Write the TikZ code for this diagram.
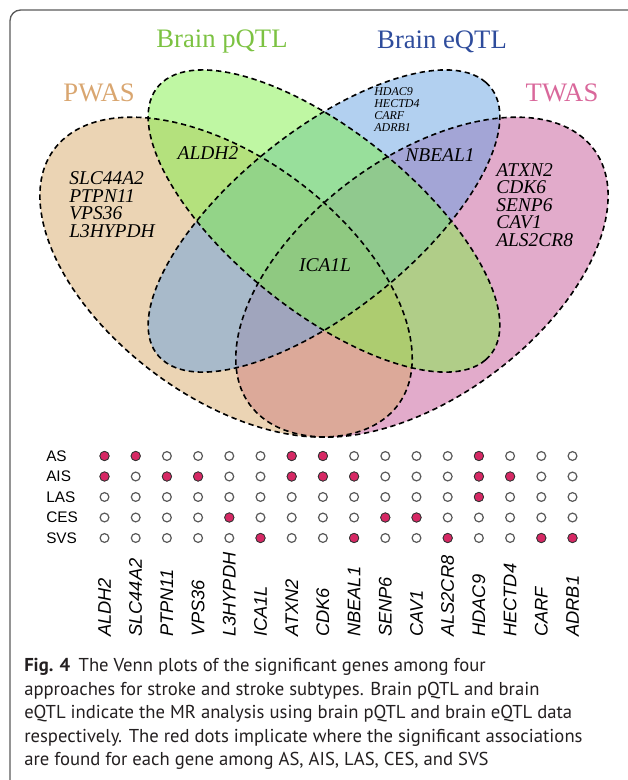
\documentclass[tikz,border=0pt]{standalone}
\usepackage{fontspec}
\setmainfont{Liberation Serif}
\newfontfamily\helv{Liberation Sans}
\newfontfamily\capfont{PT Sans}

\definecolor{pwascol}{RGB}{215,169,105}
\definecolor{pqtlcol}{RGB}{127,239,71}
\definecolor{eqtlcol}{RGB}{101,161,225}
\definecolor{twascol}{RGB}{197,87,151}
\definecolor{pwastxt}{RGB}{217,166,112}
\definecolor{pqtltxt}{RGB}{124,194,66}
\definecolor{eqtltxt}{RGB}{46,76,156}
\definecolor{twastxt}{RGB}{217,104,155}
\definecolor{dotred}{RGB}{214,40,100}
\definecolor{framegray}{RGB}{90,90,90}
\definecolor{captxt}{RGB}{35,31,32}

\tikzset{
	venn/.style={fill=#1, fill opacity=0.5},
	vennline/.style={draw=black, line width=1.2pt, dash pattern=on 4pt off 2.8pt},
	settitle/.style={font=\fontsize{20}{24}\selectfont, text=#1, inner sep=0pt},
	gene/.style={font=\fontsize{14.6}{17}\selectfont\itshape, inner sep=0pt},
	smallgene/.style={font=\fontsize{9}{10}\selectfont\itshape, inner sep=0pt},
	rowlab/.style={font=\helv\fontsize{11.5}{13}\selectfont, inner sep=0pt, anchor=west},
	genelab/.style={font=\helv\fontsize{13.7}{15}\selectfont\itshape, rotate=90, anchor=west, inner sep=0pt},
	emptydot/.style={circle, draw=black!65, line width=0.9pt, fill=white, minimum size=6.6pt, inner sep=0pt},
	fulldot/.style={circle, draw=black!80, line width=0.6pt, fill=dotred, minimum size=7pt, inner sep=0pt},
	capline/.style={font=\capfont\fontsize{14}{17}\selectfont, text=captxt, anchor=base west, inner sep=0pt}
}

\begin{document}
\begin{tikzpicture}[x=0.75pt, y=0.75pt]
	\useasboundingbox (0,0) rectangle (627,-780);
	\draw[framegray, line width=1pt, rounded corners=8pt] (10,-800) -- (10,-10) -- (650,-10);

	% Venn
	\begin{scope}[shift={(-2.5,-540.8)}, xscale=653, yscale=561]
		\fill[venn=twascol, rotate around={45:(0.65,0.47)}] (0.65,0.47) ellipse (0.35 and 0.2);
		\fill[venn=pwascol, rotate around={-45:(0.35,0.47)}] (0.35,0.47) ellipse (0.35 and 0.2);
		\fill[venn=eqtlcol, rotate around={45:(0.5,0.57)}] (0.5,0.57) ellipse (0.35 and 0.15);
		\fill[venn=pqtlcol, rotate around={-45:(0.5,0.57)}] (0.5,0.57) ellipse (0.35 and 0.15);

		\draw[vennline, rotate around={45:(0.65,0.47)}] (0.65,0.47) ellipse (0.35 and 0.2);
		\draw[vennline, rotate around={-45:(0.35,0.47)}] (0.35,0.47) ellipse (0.35 and 0.2);
		\draw[vennline, rotate around={45:(0.5,0.57)}] (0.5,0.57) ellipse (0.35 and 0.15);
		\draw[vennline, rotate around={-45:(0.5,0.57)}] (0.5,0.57) ellipse (0.35 and 0.15);
	\end{scope}

	\node[settitle=pqtltxt] (pqtl) at (222,-42) {Brain pQTL};
	\node[settitle=eqtltxt] (eqtl) at (442,-42) {Brain eQTL};
	\node[settitle=pwastxt] (pwas) at (99,-93) {PWAS};
	\node[settitle=twastxt] (twas) at (562,-93) {TWAS};

	\foreach \g [count=\k] in {SLC44A2,PTPN11,VPS36,L3HYPDH} {
		\node[gene, anchor=base west] (pw\k) at (69,{-185-17.5*(\k-1)}) {\g};
	}
	\foreach \g [count=\k] in {ATXN2,CDK6,SENP6,CAV1,ALS2CR8} {
		\node[gene, anchor=base west] (tw\k) at (496,{-176.5-17.5*(\k-1)}) {\g};
	}
	\foreach \g [count=\k] in {HDAC9,HECTD4,CARF,ADRB1} {
		\node[smallgene, anchor=base west] (eq\k) at (374,{-96-12*(\k-1)}) {\g};
	}
	\node[gene] (aldh) at (208,-153) {ALDH2};
	\node[gene] (nbeal) at (440,-155) {NBEAL1};
	\node[gene] (ica) at (325,-265) {ICA1L};

	% dot matrix
	\foreach \r [count=\j] in {AS,AIS,LAS,CES,SVS} {
		\node[rowlab] (r\j) at (46,{-456-20.5*(\j-1)}) {\r};
		\foreach \i in {1,...,16} {
			\node[emptydot] (d\j-\i) at ({104.5+31.2*(\i-1)},{-456-20.5*(\j-1)}) {};
		}
	}
	\foreach \j/\cols in {1/{1,2,7,8,13}, 2/{1,3,4,7,8,9,13,14}, 3/{13}, 4/{5,10,11}, 5/{6,9,12,15,16}} {
		\foreach \i in \cols {
			\node[fulldot] (f\j-\i) at (d\j-\i) {};
		}
	}
	\foreach \g [count=\i] in {ALDH2,SLC44A2,PTPN11,VPS36,L3HYPDH,ICA1L,ATXN2,CDK6,NBEAL1,SENP6,CAV1,ALS2CR8,HDAC9,HECTD4,CARF,ADRB1} {
		\node[genelab] (g\i) at ({104.5+31.2*(\i-1)},-637) {\g};
	}

	% caption
	\node[capline] (cap1) at (24,-671) {\textbf{Fig. 4}\hspace{0.45em}The Venn plots of the significant genes among four};
	\node[capline] (cap2) at (24,-695) {approaches for stroke and stroke subtypes. Brain pQTL and brain};
	\node[capline] (cap3) at (24,-718) {eQTL indicate the MR analysis using brain pQTL and brain eQTL data};
	\node[capline] (cap4) at (24,-742) {respectively. The red dots implicate where the significant associations};
	\node[capline] (cap5) at (24,-765) {are found for each gene among AS, AIS, LAS, CES, and SVS};
\end{tikzpicture}
\end{document}
